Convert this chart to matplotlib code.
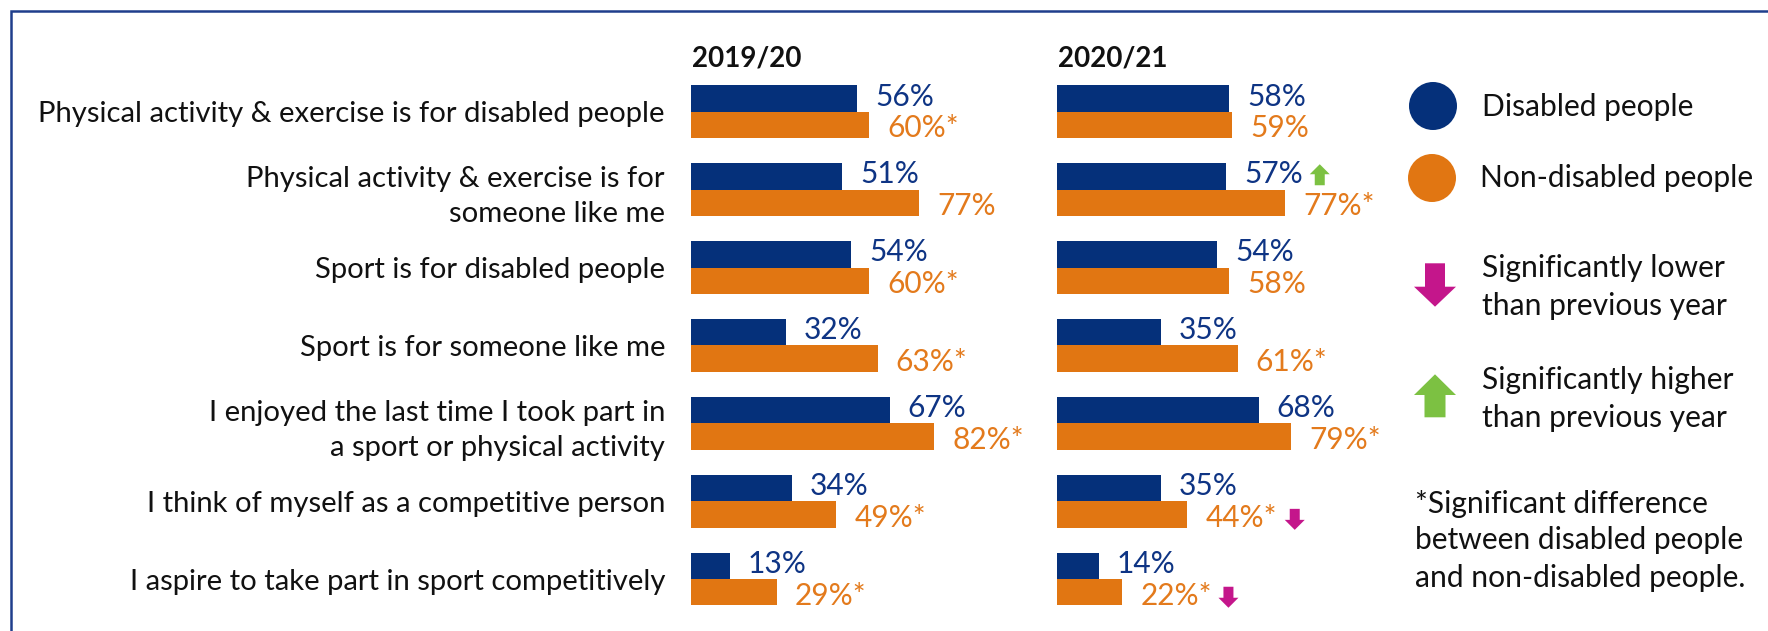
import numpy as np
import matplotlib
matplotlib.use("Agg")
import matplotlib.pyplot as plt
import matplotlib.transforms as mtransforms
from matplotlib.font_manager import FontProperties
from matplotlib.textpath import TextPath
from matplotlib.patches import Polygon, Ellipse

# ---------------- data ----------------
categories = [
    "Physical activity & exercise is for disabled people",
    "Physical activity & exercise is for\nsomeone like me",
    "Sport is for disabled people",
    "Sport is for someone like me",
    "I enjoyed the last time I took part in\na sport or physical activity",
    "I think of myself as a competitive person",
    "I aspire to take part in sport competitively",
]
years = ["2019/20", "2020/21"]
series_names = ["Disabled people", "Non-disabled people"]

disabled_1920 = [56, 51, 54, 32, 67, 34, 13]
nondisabled_1920 = [60, 77, 60, 63, 82, 49, 29]
disabled_2021 = [58, 57, 54, 35, 68, 35, 14]
nondisabled_2021 = [59, 77, 58, 61, 79, 44, 22]

# * = significant difference between disabled and non-disabled people
star_1920 = [True, False, True, True, True, True, True]
star_2021 = [False, True, False, True, True, True, True]

# +1 significantly higher / -1 significantly lower than previous year
change_dis_1920 = [0, 0, 0, 0, 0, 0, 0]
change_non_1920 = [0, 0, 0, 0, 0, 0, 0]
change_dis_2021 = [0, 1, 0, 0, 0, 0, 0]
change_non_2021 = [0, 0, 0, 0, 0, -1, -1]

legend_lower = ["Significantly lower", "than previous year"]
legend_higher = ["Significantly higher", "than previous year"]
legend_note = ["*Significant difference", "between disabled people", "and non-disabled people."]

# ---------------- style ----------------
W, H, DPI = 1768, 631, 100
FONT = "Lato"
BLUE = "#05307A"
ORANGE = "#E17612"
BLUE_TXT = "#0E3484"
ORANGE_TXT = "#E37A1C"
MAGENTA = "#C4168B"
GREEN = "#7CC142"
BORDER = "#1F3E8C"
TXT = "#111111"

plt.rcParams["font.family"] = [FONT, "DejaVu Sans"]


def ink_px(text, size, weight="normal"):
    tp = TextPath((0, 0), text, prop=FontProperties(family=FONT, size=size, weight=weight))
    ext = tp.get_extents()
    return ext.width * DPI / 72.0, ext.y1 * DPI / 72.0


def fit(text, target_px, weight="normal"):
    w, _ = ink_px(text, 10, weight)
    return 10 * target_px / w


label_fs = fit(categories[0], 623)
value_fs = fit("60%*", 68)
head_fs = fit("2019/20", 108, weight="bold")
legend_fs = fit("between disabled people", 325)

fig = plt.figure(figsize=(W / DPI, H / DPI), dpi=DPI)

# overlay in pixel coordinates for frame and legend
ov = fig.add_axes([0, 0, 1, 1], zorder=0)
ov.set_xlim(0, W)
ov.set_ylim(H, 0)
ov.axis("off")

# frame (left and top lines)
ov.plot([11.3, 11.3, W + 5], [H + 5, 10.8, 10.8], color=BORDER, lw=1.8,
        solid_joinstyle="miter", clip_on=False)

PX_PER_PCT = 2.965
ROW0 = 111.7
STEP = 77.9
BAR_H = 26.3 / STEP
n = len(categories)
top_px = ROW0 - 0.5 * STEP
bot_px = ROW0 + (n - 0.5) * STEP


def arrow_verts(up, w=20, h=21, shaft=10, head=10):
    s = 1 if up else -1
    return [(-shaft / 2, -s * h / 2), (shaft / 2, -s * h / 2), (shaft / 2, s * (h / 2 - head)),
            (w / 2, s * (h / 2 - head)), (0, s * h / 2), (-w / 2, s * (h / 2 - head)),
            (-shaft / 2, s * (h / 2 - head))]


panels = [
    (691, years[0], disabled_1920, nondisabled_1920, star_1920, change_dis_1920, change_non_1920),
    (1057, years[1], disabled_2021, nondisabled_2021, star_2021, change_dis_2021, change_non_2021),
]

y = np.arange(n)
for k, (x0, year, dis, non, star, chg_dis, chg_non) in enumerate(panels):
    ax = fig.add_axes([x0 / W, 1 - bot_px / H, 100 * PX_PER_PCT / W, (bot_px - top_px) / H], zorder=1)
    ax.set_xlim(0, 100)
    ax.set_ylim(n - 0.5, -0.5)
    ax.set_autoscale_on(False)
    ax.patch.set_visible(False)
    for s in ax.spines.values():
        s.set_visible(False)
    ax.set_xticks([])
    ax.barh(y - BAR_H / 2, dis, height=BAR_H, color=BLUE)
    ax.barh(y + BAR_H / 2, non, height=BAR_H, color=ORANGE)

    if k == 0:
        ax.set_yticks(y, categories, fontsize=label_fs, color=TXT)
        ax.tick_params(axis="y", length=0, pad=26 * 0.72)
        _, asc = ink_px("l", label_fs)
        for t in ax.get_yticklabels():
            t.set_linespacing(31.0 / asc)
    else:
        ax.set_yticks([])

    ax.annotate(year, xy=(0, 1), xycoords="axes fraction", xytext=(0.7, 6 * 0.72),
                textcoords="offset points", fontsize=head_fs, fontweight="bold",
                ha="left", va="baseline", color=TXT)

    for i in range(n):
        lab_d = f"{dis[i]}%"
        lab_n = f"{non[i]}%" + ("*" if star[i] else "")
        ax.annotate(lab_d, xy=(dis[i], y[i] - BAR_H / 2), xytext=(18 * 0.72, -7 * 0.72),
                    textcoords="offset points", fontsize=value_fs, color=BLUE_TXT,
                    ha="left", va="baseline")
        ax.annotate(lab_n, xy=(non[i], y[i] + BAR_H / 2), xytext=(18 * 0.72, -12.5 * 0.72),
                    textcoords="offset points", fontsize=value_fs, color=ORANGE_TXT,
                    ha="left", va="baseline")
        for chg, val, yy, lab, dy in ((chg_dis[i], dis[i], y[i] - BAR_H / 2, lab_d, 1.7),
                                      (chg_non[i], non[i], y[i] + BAR_H / 2, lab_n, -5.0)):
            if chg == 0:
                continue
            tw, _ = ink_px(lab, value_fs)
            dx = 18 + tw + 10 + 10
            trans = (mtransforms.Affine2D().translate(dx, dy)
                     + mtransforms.ScaledTranslation(val, yy, ax.transData))
            ax.add_patch(Polygon(arrow_verts(chg > 0), closed=True, transform=trans,
                                 facecolor=GREEN if chg > 0 else MAGENTA,
                                 edgecolor="none", clip_on=False))

# ---------------- legend ----------------
ov.add_patch(Ellipse((1433, 106), 48, 48, facecolor=BLUE, edgecolor="none"))
ov.add_patch(Ellipse((1432, 178), 48, 48, facecolor=ORANGE, edgecolor="none"))
ov.text(1482, 115.7, series_names[0], fontsize=legend_fs, color=TXT, ha="left", va="baseline")
ov.text(1480, 186.7, series_names[1], fontsize=legend_fs, color=TXT, ha="left", va="baseline")

ov.add_patch(Polygon([(1425, 263.3), (1445, 263.3), (1445, 286.7), (1456, 286.7),
                      (1435, 306.7), (1414, 286.7), (1425, 286.7)],
                     closed=True, facecolor=MAGENTA, edgecolor="none"))
ov.add_patch(Polygon([(1424.5, 417.3), (1445.5, 417.3), (1445.5, 395), (1456, 395),
                      (1435, 374.3), (1414, 395), (1424.5, 395)],
                     closed=True, facecolor=GREEN, edgecolor="none"))

for line, yb in zip(legend_lower, [277.3, 315.0]):
    ov.text(1482, yb, line, fontsize=legend_fs, color=TXT, ha="left", va="baseline")
for line, yb in zip(legend_higher, [389.0, 426.7]):
    ov.text(1482, yb, line, fontsize=legend_fs, color=TXT, ha="left", va="baseline")
for line, yb in zip(legend_note, [512.7, 549.0, 587.3]):
    ov.text(1415, yb, line, fontsize=legend_fs, color=TXT, ha="left", va="baseline")

fig.savefig("out.png", dpi=DPI, facecolor="white")
